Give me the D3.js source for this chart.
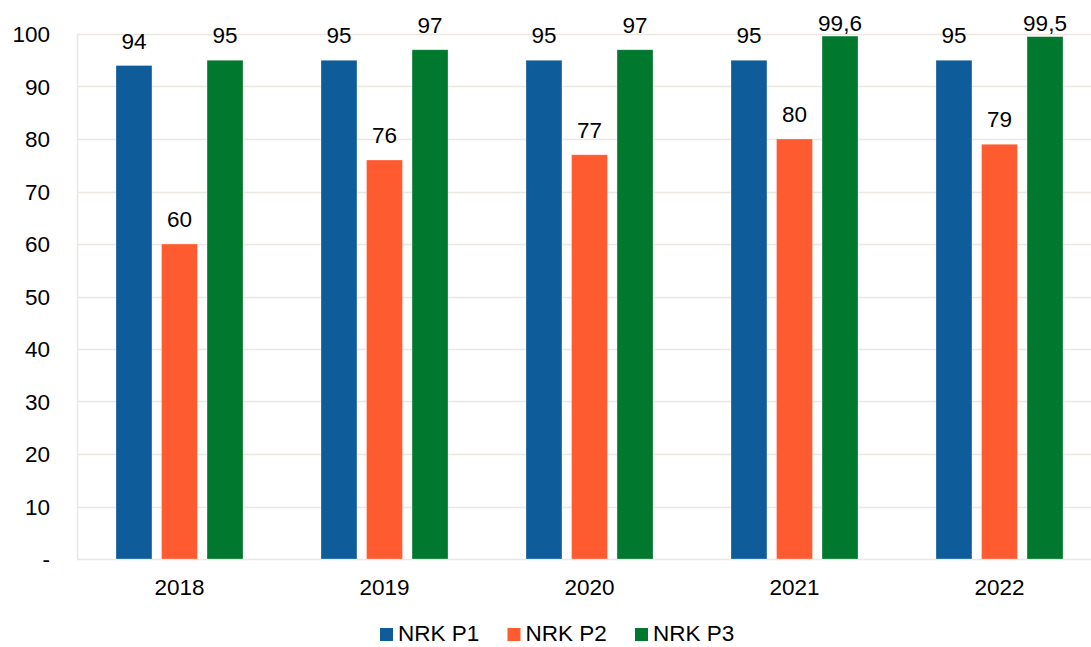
<!DOCTYPE html>
<html>
<head>
<meta charset="utf-8">
<script src="https://cdn.jsdelivr.net/npm/d3@7"></script>
<style>
  body { margin: 0; background: #fff; }
  text { font-family: "Liberation Sans", Arial, sans-serif; fill: #000; }
</style>
</head>
<body>
<script>
var years = ["2018", "2019", "2020", "2021", "2022"];
var seriesNames = ["NRK P1", "NRK P2", "NRK P3"];
var p1 = [94, 95, 95, 95, 95];
var p2 = [60, 76, 77, 80, 79];
var p3 = [95, 97, 97, 99.6, 99.5];
var yTicks = [0, 10, 20, 30, 40, 50, 60, 70, 80, 90, 100];
var colors = ["#0f5c9b", "#ff5b30", "#00782d"];

var width = 1091, height = 647;
var margin = {top: 34, left: 77, bottom: 88};
var plotRight = 1102;
var fontSize = "22.5px";

var svg = d3.select("body").append("svg")
    .attr("width", width)
    .attr("height", height);

var x = d3.scaleBand()
    .domain(years)
    .range([margin.left, plotRight]);

var y = d3.scaleLinear()
    .domain([0, 100])
    .range([height - margin.bottom, margin.top]);

var x1 = d3.scaleBand()
    .domain(seriesNames)
    .range([0, 127])
    .paddingInner(0.21);

// gridlines
svg.append("g")
  .selectAll("line")
  .data(yTicks)
  .enter().append("line")
    .attr("x1", margin.left)
    .attr("x2", plotRight)
    .attr("y1", function(d) { return Math.round(y(d)) + 0.5; })
    .attr("y2", function(d) { return Math.round(y(d)) + 0.5; })
    .attr("stroke", "#ece8e0")
    .attr("stroke-width", 1.5);

svg.append("line")
    .attr("x1", margin.left + 0.5)
    .attr("x2", margin.left + 0.5)
    .attr("y1", y(100))
    .attr("y2", y(0))
    .attr("stroke", "#ece8e0")
    .attr("stroke-width", 1.5);

// y tick labels
svg.append("g")
  .selectAll("text")
  .data(yTicks)
  .enter().append("text")
    .attr("x", 50)
    .attr("y", function(d) { return y(d); })
    .attr("dy", "0.36em")
    .attr("text-anchor", "end")
    .style("font-size", fontSize)
    .text(function(d) { return d === 0 ? "-" : d; });

// x labels
svg.append("g")
  .selectAll("text")
  .data(years)
  .enter().append("text")
    .attr("x", function(d) { return x(d) + x.bandwidth() / 2; })
    .attr("y", 595)
    .attr("text-anchor", "middle")
    .style("font-size", fontSize)
    .text(function(d) { return d; });

var rows = [];
years.forEach(function(yr, i) {
  [p1, p2, p3].forEach(function(arr, j) {
    rows.push({year: yr, series: seriesNames[j], value: arr[i], color: colors[j]});
  });
});

var groupOffset = (x.bandwidth() - x1.range()[1]) / 2;

svg.append("g")
  .selectAll("rect")
  .data(rows)
  .enter().append("rect")
    .attr("x", function(d) { return x(d.year) + groupOffset + x1(d.series); })
    .attr("y", function(d) { return y(d.value); })
    .attr("width", x1.bandwidth())
    .attr("height", function(d) { return y(0) - y(d.value); })
    .attr("fill", function(d) { return d.color; })
    .attr("stroke", "#ffffff")
    .attr("stroke-opacity", 0.35)
    .attr("stroke-width", 0.8);

// value labels
svg.append("g")
  .selectAll("text")
  .data(rows)
  .enter().append("text")
    .attr("x", function(d) { return x(d.year) + groupOffset + x1(d.series) + x1.bandwidth() / 2; })
    .attr("y", function(d) { return Math.max(y(d.value) - 17, 31); })
    .attr("text-anchor", "middle")
    .style("font-size", fontSize)
    .text(function(d) { return String(d.value).replace(".", ","); });

// legend
var legend = svg.append("g")
  .selectAll("g")
  .data(seriesNames)
  .enter().append("g")
    .attr("transform", function(d, i) { return "translate(" + (380 + i * 127.5) + ",628)"; });

legend.append("rect")
    .attr("width", 13)
    .attr("height", 13)
    .attr("fill", function(d, i) { return colors[i]; });

legend.append("text")
    .attr("x", 18)
    .attr("y", 13)
    .style("font-size", fontSize)
    .text(function(d) { return d; });
</script>
</body>
</html>
